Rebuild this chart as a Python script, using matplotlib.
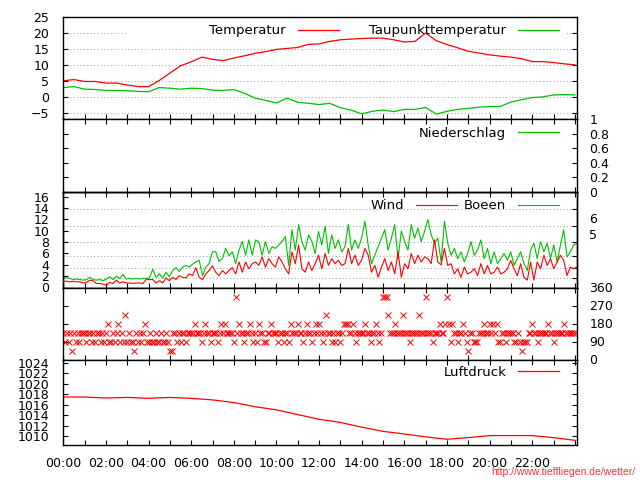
import numpy as np
import matplotlib
matplotlib.use('Agg')
import matplotlib.pyplot as plt
from matplotlib.patches import Rectangle
from matplotlib.ticker import FixedLocator, FixedFormatter, NullFormatter

plt.rcParams['font.family'] = ['DejaVu Sans']
plt.rcParams['font.size'] = 9

# ---------------- data ----------------
# temperature / dew point, half-hourly (hours 0..24)
temp_hours = np.arange(0, 24.01, 0.5)
temperatur = [5.1, 5.5, 4.9, 4.9, 4.4, 4.4, 3.8, 3.3, 3.3, 5.2, 7.5, 9.8, 11.0, 12.5, 11.8, 11.4,
              12.2, 12.9, 13.7, 14.2, 14.9, 15.2, 15.5, 16.5, 16.6, 17.4, 17.9, 18.1, 18.3, 18.4,
              18.4, 17.9, 17.2, 17.4, 20.0, 17.6, 16.4, 15.4, 14.3, 13.8, 13.2, 12.8, 12.5, 12.0,
              11.1, 11.1, 10.8, 10.4, 10.1]
taupunkt = [3.0, 3.3, 2.5, 2.4, 2.1, 2.1, 2.0, 1.8, 1.7, 3.0, 2.8, 2.5, 2.8, 2.7, 2.2, 2.1,
            2.4, 1.2, -0.3, -1.0, -1.8, -0.3, -1.6, -1.9, -2.3, -1.9, -3.3, -4.0, -5.2, -4.4,
            -4.0, -4.5, -3.8, -3.8, -3.2, -5.3, -4.4, -3.8, -3.5, -3.1, -2.9, -2.9, -1.5, -0.8,
            -0.1, 0.1, 0.7, 0.8, 0.7]

# precipitation, hourly
rain_hours = np.arange(0, 25)
niederschlag = [0, 0, 0, 0, 0, 0, 0, 0, 0, 0, 0, 0, 0, 0, 0, 0, 0, 0, 0, 0, 0, 0, 0, 0, 0]

# wind and gusts (m/s), ~9.4 min samples
wind = [1.1, 1.1, 1.0, 1.1, 1.0, 1.0, 0.8, 0.9, 1.3, 1.2, 0.7, 0.7, 0.6, 0.4, 0.9, 0.7, 1.3, 0.8,
        1.0, 0.8, 0.8, 0.7, 0.8, 0.8, 0.7, 1.4, 1.4, 1.4, 0.8, 1.2, 0.8, 1.7, 1.2, 1.8, 1.4, 2.1,
        1.8, 1.7, 2.4, 2.1, 3.5, 1.8, 1.4, 2.4, 3.0, 3.8, 2.7, 2.1, 3.0, 2.4, 3.0, 3.5,
        2.4, 4.5, 2.7, 4.5, 3.3, 4.2, 4.5, 3.9, 5.4, 3.6, 5.1, 4.2, 3.6, 5.4, 4.5, 3.3, 2.4, 6.3,
        4.2, 7.5, 3.3, 2.7, 4.5, 3.0, 4.2, 5.7, 3.3, 6.0, 3.9, 5.1, 4.2, 4.8, 3.9, 4.2, 6.9, 4.2,
        5.7, 3.9, 4.8, 6.9, 5.7, 2.7, 3.9, 1.8, 3.6, 5.1, 3.0, 4.5, 2.4, 6.3, 1.8, 4.2,
        3.3, 6.0, 4.2, 5.7, 4.5, 5.4, 5.1, 4.2, 8.4, 4.5, 4.0, 6.9, 3.9, 4.2, 2.4, 3.3, 1.8, 3.6,
        2.4, 2.7, 3.3, 2.1, 4.2, 2.4, 3.9, 2.4, 2.7, 3.6, 2.4, 2.7, 3.3, 4.8, 3.3, 2.1, 4.2, 1.8,
        1.3, 4.5, 1.3, 4.5, 3.3, 5.7, 3.9, 5.1, 3.3, 4.5, 5.7, 4.8, 2.1, 3.6, 3.3, 3.6]
boeen = [1.7, 1.7, 1.6, 1.4, 1.5, 1.4, 1.3, 1.4, 1.8, 1.4, 1.3, 1.4, 1.2, 1.5, 1.9, 1.4, 2.0, 1.6,
         2.3, 1.5, 1.6, 1.5, 1.6, 1.5, 1.6, 1.6, 1.7, 3.2, 1.8, 2.4, 1.7, 2.7, 1.9, 3.0, 3.5, 2.8,
         3.6, 3.9, 3.6, 4.1, 4.5, 4.8, 2.1, 3.6, 4.2, 6.3, 6.3, 4.6, 5.1, 6.9, 5.6, 6.3,
         4.2, 6.6, 8.1, 5.7, 8.4, 5.7, 8.4, 8.1, 5.7, 8.1, 6.0, 7.2, 6.9, 7.5, 8.1, 9.0, 3.9, 10.2,
         6.6, 11.1, 8.1, 6.6, 9.3, 8.1, 6.0, 9.9, 7.5, 10.8, 6.0, 9.3, 6.9, 8.4, 6.3, 7.2, 11.1, 6.6,
         8.4, 6.9, 8.7, 11.7, 7.5, 4.2, 5.7, 7.2, 8.7, 10.2, 6.6, 8.7, 11.1, 5.0, 10.0, 8.1,
         6.6, 11.1, 8.7, 10.5, 8.1, 9.9, 12.0, 9.3, 7.8, 8.7, 4.5, 11.7, 7.8, 5.7, 6.9, 5.1, 6.3, 4.5,
         6.0, 8.1, 5.7, 6.6, 8.4, 5.1, 6.9, 4.2, 6.3, 4.2, 5.1, 6.0, 4.8, 6.3, 3.9, 5.1, 6.3, 4.2,
         3.0, 6.6, 7.8, 5.1, 8.1, 6.3, 7.8, 5.1, 7.5, 4.5, 7.5, 10.2, 5.4, 6.3, 7.5, 7.8]
wind_hours = np.linspace(0, 24.1, len(wind))

# Beaufort boundaries (m/s) and labels shown on the right
bft_bounds = [1.6, 3.4, 5.5, 8.0, 10.8, 13.9]
bft_label_pos = [9.4, 12.3]
bft_labels = ['5', '6']

# wind direction (deg), 5-minute samples, one row per hour
richtung = [
    135, 90, 135, 90, 135, 45, 135, 90, 135, 90, 135, 135,
    135, 90, 135, 135, 90, 135, 90, 135, 135, 90, 135, 90,
    135, 180, 90, 90, 135, 90, 135, 180, 90, 135, 90, 225,
    90, 135, 90, 90, 45, 135, 90, 135, 90, 135, 180, 90,
    90, 135, 90, 90, 135, 90, 90, 135, 90, 90, 135, 90,
    45, 45, 135, 135, 90, 135, 90, 135, 135, 90, 135, 135,
    135, 135, 180, 135, 135, 135, 90, 135, 180, 135, 135, 90,
    135, 135, 135, 90, 135, 180, 135, 180, 135, 135, 135, 135,
    90, 315, 135, 180, 135, 135, 90, 135, 135, 180, 135, 90,
    135, 90, 180, 135, 135, 90, 90, 135, 135, 180, 135, 135,
    135, 90, 135, 135, 90, 135, 135, 90, 180, 135, 135, 135,
    180, 135, 135, 90, 135, 180, 135, 135, 90, 135, 180, 135,
    180, 135, 90, 135, 225, 135, 135, 90, 135, 90, 135, 135,
    90, 135, 180, 180, 180, 135, 135, 180, 135, 90, 135, 135,
    135, 135, 180, 135, 135, 90, 135, 135, 180, 135, 90, 135,
    315, 315, 315, 225, 135, 135, 135, 180, 135, 135, 135, 225,
    135, 135, 135, 90, 135, 135, 135, 135, 225, 135, 135, 135,
    315, 135, 135, 135, 90, 135, 135, 135, 180, 135, 135, 180,
    315, 180, 90, 180, 135, 135, 90, 135, 135, 180, 135, 90,
    45, 135, 135, 90, 90, 90, 135, 135, 135, 180, 135, 135,
    180, 135, 180, 135, 180, 90, 90, 135, 135, 90, 135, 135,
    135, 135, 90, 90, 135, 90, 45, 90, 90, 90, 135, 135,
    180, 135, 135, 90, 135, 135, 135, 135, 135, 180, 135, 135,
    90, 135, 135, 135, 135, 135, 180, 135, 135, 135, 135, 135,
    135]
dir_hours = np.arange(len(richtung)) / 12.0

# pressure, hourly
luftdruck = [1017.45, 1017.45, 1017.26, 1017.37, 1017.2, 1017.37, 1017.2, 1016.9, 1016.4, 1015.6,
             1015.0, 1014.1, 1013.2, 1012.6, 1011.7, 1010.9, 1010.4, 1009.85, 1009.4, 1009.7,
             1010.1, 1010.1, 1010.1, 1009.7, 1009.2]
p_hours = np.arange(0, 25)

hour_ticks = list(range(0, 25))
hour_labels = [f'{h:02d}:00' if (h % 2 == 0 and h < 24) else '' for h in hour_ticks]

# ---------------- figure ----------------
RED = '#ff0000'
GREEN = '#00c000'
GRID = dict(color='#999999', linewidth=0.7, linestyle=(0, (1, 2.5)))

fig = plt.figure(figsize=(6.4, 4.8), dpi=100)
L, W = 63.3 / 640, 513.7 / 640


def rect(t, b):
    return [L, 1 - b / 480, W, (b - t) / 480]


panels = [(17, 119), (119, 192), (192, 287.5), (287.5, 359.5), (359.5, 445)]
axes = [fig.add_axes(rect(t, b)) for t, b in panels]

for ax in axes:
    ax.set_xlim(0, 24.1)
    ax.xaxis.set_major_locator(FixedLocator(hour_ticks))
    ax.xaxis.set_major_formatter(FixedFormatter(hour_labels))
    ax.tick_params(axis='both', direction='in', length=3.8, width=0.8, top=True, right=True,
                   labelsize=9, labelbottom=False)
    ax.tick_params(axis='y', pad=10)
    for s in ax.spines.values():
        s.set_linewidth(1.0)
    ax.set_axisbelow(True)

LEG = dict(markerfirst=False, loc='center right', frameon=False, borderaxespad=0, borderpad=0,
           handlelength=3.1, handletextpad=0.9, fontsize=9.5)

# Panel 1: temperature
ax = axes[0]
ax.tick_params(axis='x', top=False)
ax.set_ylim(-6.8, 25)
ax.yaxis.set_major_locator(FixedLocator([-5, 0, 5, 10, 15, 20, 25]))
ax.yaxis.grid(True, **GRID)
ax.add_patch(Rectangle((0.124, 0.78), 0.856, 0.17, transform=ax.transAxes, facecolor='white',
                       edgecolor='none', zorder=1))
l1, = ax.plot(temp_hours, temperatur, color=RED, lw=0.9, zorder=2)
l2, = ax.plot(temp_hours, taupunkt, color=GREEN, lw=0.9, zorder=2)
ax.legend([l1, l2], ['Temperatur', 'Taupunkttemperatur'], ncol=2, columnspacing=2.3,
          bbox_to_anchor=(0.965, 0.865), **LEG)

# Panel 2: precipitation
ax = axes[1]
ax.set_ylim(0, 1)
ax.yaxis.set_major_locator(FixedLocator([0, 0.2, 0.4, 0.6, 0.8, 1.0]))
ax.yaxis.set_major_formatter(FixedFormatter(['0', '0.2', '0.4', '0.6', '0.8', '1']))
ax.tick_params(axis='y', labelleft=False, labelright=True, pad=9)
l3, = ax.plot(rain_hours, niederschlag, color=GREEN, lw=0.9, zorder=1)
ax.legend([l3], ['Niederschlag'], bbox_to_anchor=(0.965, 0.80), **LEG)

# Panel 3: wind
ax = axes[2]
ax.set_ylim(0, 16.85)
ax.yaxis.set_major_locator(FixedLocator(list(range(0, 17, 2))))
ax.tick_params(axis='y', right=False)
axr = ax.twinx()
axr.set_ylim(0, 16.85)
axr.yaxis.set_major_locator(FixedLocator(bft_bounds))
axr.yaxis.set_major_formatter(NullFormatter())
axr.yaxis.set_minor_locator(FixedLocator(bft_label_pos))
axr.yaxis.set_minor_formatter(FixedFormatter(bft_labels))
axr.tick_params(axis='y', which='major', direction='in', length=3.8, width=0.8)
axr.tick_params(axis='y', which='minor', length=0, labelsize=9, pad=9)
axr.yaxis.grid(True, which='major', **GRID)
for s in axr.spines.values():
    s.set_linewidth(1.0)
axr.set_zorder(ax.get_zorder() - 1)
ax.patch.set_visible(False)
l4, = ax.plot(wind_hours, wind, color=RED, lw=0.8, zorder=3)
l5, = ax.plot(wind_hours, boeen, color=GREEN, lw=0.8, zorder=2)
ax.legend([l4, l5], ['Wind', 'Boeen'], ncol=2, columnspacing=0.5,
          bbox_to_anchor=(0.965, 0.857), **LEG)

# Panel 4: wind direction
ax = axes[3]
ax.set_ylim(0, 360)
ax.yaxis.set_major_locator(FixedLocator([0, 90, 180, 270, 360]))
ax.tick_params(axis='y', labelleft=False, labelright=True, pad=9)
ax.plot(dir_hours, richtung, linestyle='none', marker='x', color=RED, markersize=5,
        markeredgewidth=0.7)

# Panel 5: pressure
ax = axes[4]
ax.set_ylim(1008.3, 1024.6)
ax.yaxis.set_major_locator(FixedLocator(list(range(1010, 1025, 2))))
ax.tick_params(axis='x', labelbottom=True, pad=8.5)
l6, = ax.plot(p_hours, luftdruck, color=RED, lw=0.9)
ax.legend([l6], ['Luftdruck'], bbox_to_anchor=(0.965, 0.85), **LEG)

fig.text(0.992, 0.0165, 'http://www.tieffliegen.de/wetter/', ha='right', va='center',
         color='#ff3333', fontsize=7.5, family=['Liberation Sans', 'DejaVu Sans'])

fig.savefig('out.png', dpi=100, facecolor='white')
